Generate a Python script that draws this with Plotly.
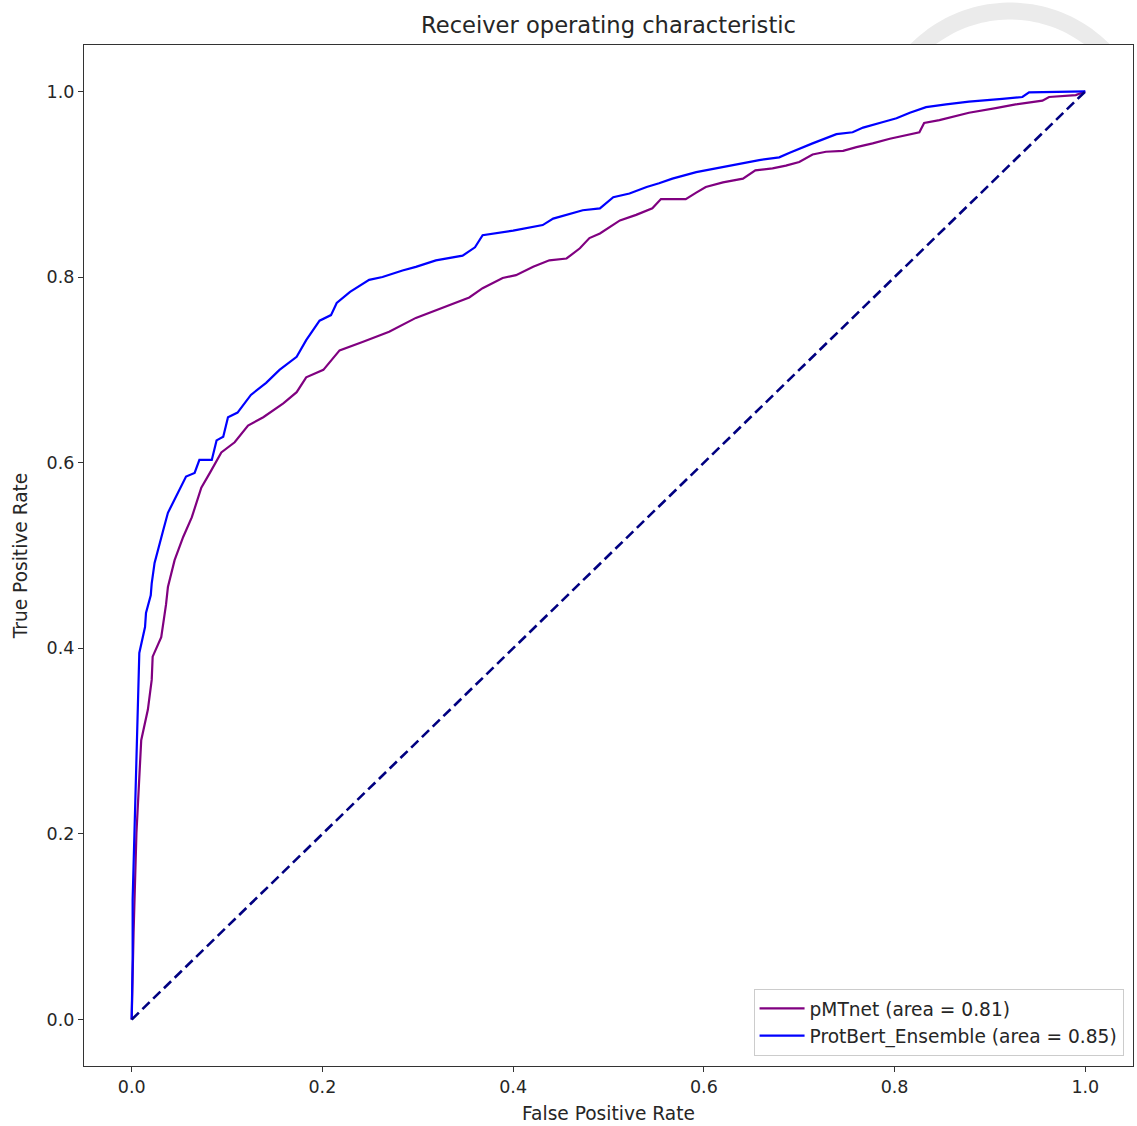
import numpy as np
import plotly.graph_objects as go

# ---- data ----
pmt_fpr = [0, 0.001, 0.002, 0.005, 0.008, 0.010, 0.017, 0.021, 0.022, 0.031, 0.036, 0.038,
           0.045, 0.054, 0.063, 0.073, 0.082, 0.094, 0.108, 0.122, 0.138, 0.159, 0.173,
           0.183, 0.201, 0.218, 0.242, 0.270, 0.298, 0.326, 0.354, 0.368, 0.389, 0.403,
           0.421, 0.438, 0.456, 0.470, 0.480, 0.491, 0.512, 0.529, 0.546, 0.555, 0.581,
           0.592, 0.602, 0.620, 0.641, 0.654, 0.672, 0.686, 0.700, 0.714, 0.728, 0.746,
           0.760, 0.777, 0.795, 0.826, 0.831, 0.847, 0.878, 0.906, 0.927, 0.955, 0.962,
           0.990, 1.0]
pmt_tpr = [0, 0.054, 0.094, 0.201, 0.255, 0.301, 0.334, 0.366, 0.391, 0.412, 0.447, 0.466,
           0.495, 0.520, 0.541, 0.573, 0.589, 0.611, 0.622, 0.640, 0.649, 0.664, 0.676,
           0.692, 0.700, 0.721, 0.730, 0.741, 0.756, 0.767, 0.778, 0.788, 0.799, 0.802,
           0.811, 0.818, 0.820, 0.831, 0.842, 0.847, 0.861, 0.867, 0.874, 0.884, 0.884,
           0.891, 0.897, 0.902, 0.906, 0.915, 0.917, 0.920, 0.924, 0.932, 0.935, 0.936,
           0.940, 0.944, 0.949, 0.956, 0.966, 0.969, 0.977, 0.982, 0.986, 0.990, 0.994,
           0.996, 1.0]

pb_fpr = [0, 0.001, 0.001, 0.003, 0.005, 0.007, 0.008, 0.014, 0.015, 0.020, 0.021, 0.024,
          0.028, 0.033, 0.038, 0.043, 0.050, 0.057, 0.066, 0.071, 0.084, 0.089, 0.096,
          0.101, 0.111, 0.125, 0.141, 0.155, 0.173, 0.183, 0.197, 0.209, 0.215, 0.229,
          0.249, 0.263, 0.284, 0.298, 0.319, 0.347, 0.360, 0.368, 0.400, 0.431, 0.442,
          0.473, 0.491, 0.505, 0.522, 0.540, 0.553, 0.567, 0.592, 0.616, 0.637, 0.658,
          0.679, 0.690, 0.714, 0.739, 0.756, 0.767, 0.788, 0.802, 0.816, 0.833, 0.854,
          0.878, 0.913, 0.934, 0.941, 0.976, 1.0]
pb_tpr = [0, 0.065, 0.129, 0.201, 0.298, 0.362, 0.395, 0.423, 0.438, 0.457, 0.470, 0.492,
          0.509, 0.527, 0.546, 0.556, 0.570, 0.585, 0.589, 0.603, 0.603, 0.624, 0.628,
          0.649, 0.654, 0.673, 0.686, 0.700, 0.714, 0.732, 0.753, 0.759, 0.772, 0.784,
          0.797, 0.800, 0.807, 0.811, 0.818, 0.823, 0.832, 0.845, 0.850, 0.856, 0.863,
          0.872, 0.874, 0.886, 0.890, 0.897, 0.901, 0.906, 0.913, 0.918, 0.922, 0.926,
          0.929, 0.934, 0.944, 0.954, 0.956, 0.961, 0.967, 0.971, 0.977, 0.983, 0.986,
          0.989, 0.992, 0.994, 0.999, 1.0, 1.0]

chance = [0, 1]
series_names = ["pMTnet (area = 0.81)", "ProtBert_Ensemble (area = 0.85)"]
tick_vals = [0.0, 0.2, 0.4, 0.6, 0.8, 1.0]
tick_text = ["0.0", "0.2", "0.4", "0.6", "0.8", "1.0"]

FONT = "DejaVu Sans"
TXT = "#262626"

fig = go.Figure()
fig.add_trace(go.Scatter(x=pmt_fpr, y=pmt_tpr, mode="lines", name=series_names[0],
                         line=dict(color="#800080", width=2.2)))
fig.add_trace(go.Scatter(x=pb_fpr, y=pb_tpr, mode="lines", name=series_names[1],
                         line=dict(color="#0000ff", width=2.2)))
fig.add_trace(go.Scatter(x=chance, y=chance, mode="lines", showlegend=False,
                         line=dict(color="#000080", width=2.6, dash="10px,5px")))

# faint watermark ring above the plot frame (decoration)
W, H = 1137, 1126
L, R, T, B = 84, 4, 44.5, 59.6
pw, ph = W - L - R, H - T - B
cx, cy, r_out, r_in = 1010, 142, 140, 123
ang = np.linspace(np.pi * 1.05, np.pi * 1.95, 80)
def to_paper(px, py):
    return (px - L) / pw, (H - B - py) / ph
pts = []
for a in ang:
    px, py = cx + r_out * np.cos(a), cy + r_out * np.sin(a)
    pts.append(to_paper(px, min(py, T)))
for a in ang[::-1]:
    px, py = cx + r_in * np.cos(a), cy + r_in * np.sin(a)
    pts.append(to_paper(px, min(py, T)))
path = "M " + " L ".join(f"{x:.4f},{y:.4f}" for x, y in pts) + " Z"
fig.add_shape(type="path", xref="paper", yref="paper", path=path,
              fillcolor="#ebebeb", line=dict(width=0), layer="below")

axis_common = dict(
    showgrid=False, zeroline=False, showline=True, mirror=True,
    linecolor="#333333", linewidth=1.2, ticks="outside", ticklen=5,
    tickcolor="#333333", tickwidth=1, tickvals=tick_vals, ticktext=tick_text,
    tickfont=dict(family=FONT, size=17.5, color=TXT),
)
fig.update_xaxes(range=[-0.05, 1.05],
                 title=dict(text="False Positive Rate", standoff=10,
                            font=dict(family=FONT, size=18.6, color=TXT)),
                 **axis_common)
fig.update_yaxes(range=[-0.05, 1.05],
                 title=dict(text="True Positive Rate", standoff=14,
                            font=dict(family=FONT, size=18.6, color=TXT)),
                 **axis_common)

fig.update_layout(
    width=W, height=H,
    margin=dict(l=L, r=R, t=T, b=B),
    paper_bgcolor="white", plot_bgcolor="white",
    title=dict(text="Receiver operating characteristic", x=0.5, xref="paper",
               y=(H - 25) / H, yref="container", xanchor="center", yanchor="middle",
               font=dict(family=FONT, size=22.6, color=TXT)),
    legend=dict(x=0.991, y=0.01, xanchor="right", yanchor="bottom",
                bgcolor="white", bordercolor="#cccccc", borderwidth=1,
                itemwidth=45,
                font=dict(family=FONT, size=18.6, color=TXT)),
    showlegend=True,
)

fig.write_html("out.html")
